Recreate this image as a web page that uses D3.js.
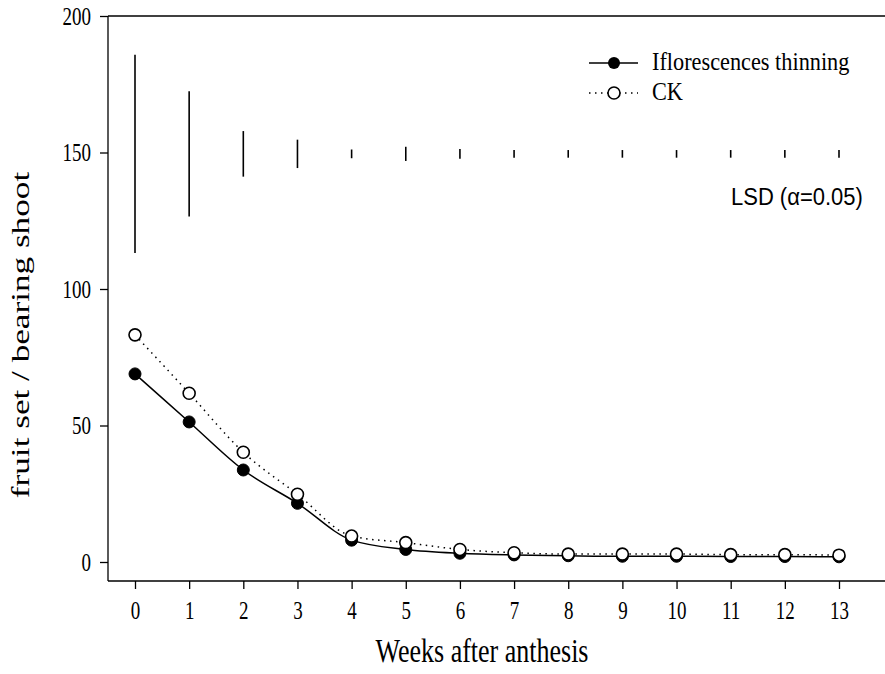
<!DOCTYPE html>
<html>
<head>
<meta charset="utf-8">
<script src="https://cdn.jsdelivr.net/npm/d3@7"></script>
<style>
  html, body { margin: 0; padding: 0; background: #fff; }
  svg { display: block; }
</style>
</head>
<body>
<svg id="chart" width="885" height="674"></svg>
<script>
// ---- data ----
const weeks = [0,1,2,3,4,5,6,7,8,9,10,11,12,13];
const thinning = [68.9, 51.3, 33.7, 21.5, 8.0, 4.6, 3.2, 2.6, 2.3, 2.1, 2.1, 2.0, 2.0, 1.9];
const ck       = [83.2, 61.8, 40.2, 24.8, 9.5, 7.1, 4.6, 3.4, 2.9, 2.9, 2.9, 2.7, 2.7, 2.5];
const lsd      = [72.6, 45.8, 16.7, 10.4, 3.2, 5.2, 3.6, 2.8, 2.8, 2.8, 2.8, 2.8, 2.8, 2.8];
const lsdCenter = 149.5;
const yTicks = [0, 50, 100, 150, 200];
const seriesNames = ["Iflorescences thinning", "CK"];
const xTitle = "Weeks after anthesis";
const yTitle = "fruit set / bearing shoot";
const lsdLabel = "LSD (\u03B1=0.05)";

// ---- layout ----
const svg = d3.select("#chart");
const x = d3.scaleLinear().domain([0, 13]).range([135, 839]);
const y = d3.scaleLinear().domain([0, 200]).range([562, 16]);
const axisLeftX = 108, axisBottomY = 581, rightEdge = 885;
const serif = "'Liberation Serif', 'Times New Roman', serif";
const stretch = 1.3; // glyphs in the reference are taller than wide

// frame lines
svg.append("line").attr("x1", axisLeftX).attr("x2", rightEdge).attr("y1", y(200)).attr("y2", y(200))
  .attr("stroke", "#000").attr("stroke-width", 1.3);
svg.append("line").attr("x1", axisLeftX).attr("x2", rightEdge).attr("y1", axisBottomY).attr("y2", axisBottomY)
  .attr("stroke", "#000").attr("stroke-width", 1.3);
svg.append("line").attr("x1", axisLeftX).attr("x2", axisLeftX).attr("y1", y(200)).attr("y2", axisBottomY)
  .attr("stroke", "#000").attr("stroke-width", 1.3);

// y axis
const yAxis = svg.append("g").attr("transform", `translate(${axisLeftX},0)`)
  .call(d3.axisLeft(y).tickValues(yTicks).tickSize(8).tickFormat(d3.format("d")));
yAxis.select(".domain").remove();
yAxis.selectAll(".tick line").attr("stroke-width", 1.3);
yAxis.selectAll("text")
  .attr("x", null).attr("y", null).attr("dy", null)
  .attr("transform", `translate(-17,8) scale(1,${stretch})`)
  .attr("font-family", serif).attr("font-size", 19).attr("fill", "#000");

// x axis
const xAxis = svg.append("g").attr("transform", `translate(0,${axisBottomY})`)
  .call(d3.axisBottom(x).tickValues(weeks).tickSize(8).tickFormat(d3.format("d")));
xAxis.select(".domain").remove();
xAxis.selectAll(".tick line").attr("stroke-width", 1.3);
xAxis.selectAll("text")
  .attr("y", null).attr("dy", null)
  .attr("transform", `translate(0,38) scale(1,${stretch})`)
  .attr("font-family", serif).attr("font-size", 19).attr("fill", "#000");

// titles
svg.append("text").attr("transform", `translate(482,662) scale(1,${stretch})`).attr("text-anchor", "middle")
  .attr("font-family", serif).attr("font-size", 26).text(xTitle);
svg.append("text").attr("transform", `translate(29,335) rotate(-90) scale(1.38,1)`)
  .attr("text-anchor", "middle").attr("font-family", serif).attr("font-size", 25.5).text(yTitle);

// LSD bars
svg.append("g").selectAll("line").data(weeks).join("line")
  .attr("x1", d => x(d)).attr("x2", d => x(d))
  .attr("y1", (d, i) => y(lsdCenter + lsd[i] / 2))
  .attr("y2", (d, i) => y(lsdCenter - lsd[i] / 2))
  .attr("stroke", "#000").attr("stroke-width", 1.6);
svg.append("text").attr("transform", `translate(731,205) scale(1,1.1)`)
  .attr("font-family", "'Liberation Sans', Arial, sans-serif").attr("font-size", 22).text(lsdLabel);

// lines
const lineGen = d3.line().x((d, i) => x(weeks[i])).y(d => y(d)).curve(d3.curveMonotoneX);
svg.append("path").datum(ck).attr("d", lineGen).attr("fill", "none")
  .attr("stroke", "#000").attr("stroke-width", 1.5).attr("stroke-dasharray", "1.5,4.5");
svg.append("path").datum(thinning).attr("d", lineGen).attr("fill", "none")
  .attr("stroke", "#000").attr("stroke-width", 1.5);

// markers
svg.append("g").selectAll("circle").data(thinning).join("circle")
  .attr("cx", (d, i) => x(weeks[i])).attr("cy", d => y(d)).attr("r", 6)
  .attr("fill", "#000").attr("stroke", "#000").attr("stroke-width", 1);
svg.append("g").selectAll("circle").data(ck).join("circle")
  .attr("cx", (d, i) => x(weeks[i])).attr("cy", d => y(d)).attr("r", 6)
  .attr("fill", "#fff").attr("stroke", "#000").attr("stroke-width", 1.6);

// legend
const leg = svg.append("g");
leg.append("line").attr("x1", 589).attr("x2", 638).attr("y1", 63).attr("y2", 63)
  .attr("stroke", "#000").attr("stroke-width", 1.5);
leg.append("circle").attr("cx", 614).attr("cy", 63).attr("r", 6).attr("fill", "#000");
leg.append("text").attr("transform", `translate(652,70) scale(1,1.15)`)
  .attr("font-family", serif).attr("font-size", 22.3).text(seriesNames[0]);
leg.append("line").attr("x1", 589).attr("x2", 638).attr("y1", 93).attr("y2", 93)
  .attr("stroke", "#000").attr("stroke-width", 1.5).attr("stroke-dasharray", "1.5,4.5");
leg.append("circle").attr("cx", 614).attr("cy", 93).attr("r", 6).attr("fill", "#fff")
  .attr("stroke", "#000").attr("stroke-width", 1.6);
leg.append("text").attr("transform", `translate(652,100) scale(1,1.15)`)
  .attr("font-family", serif).attr("font-size", 22.3).text(seriesNames[1]);
</script>
</body>
</html>
